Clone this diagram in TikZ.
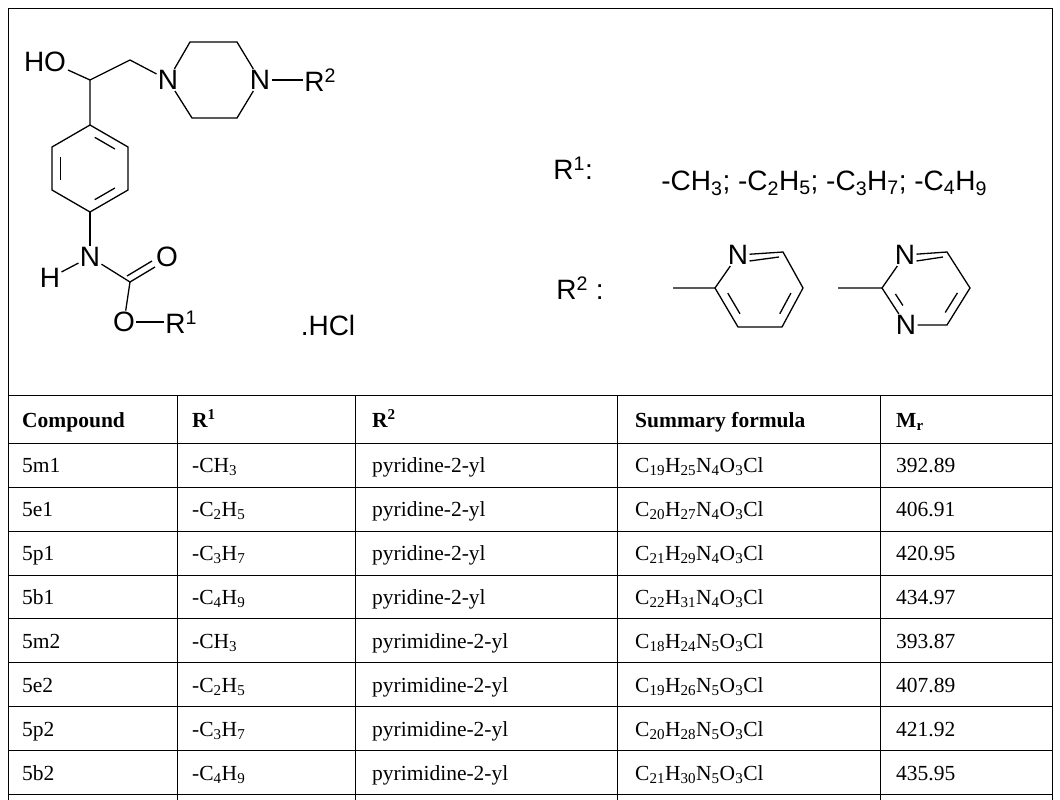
\documentclass[tikz,border=0pt]{standalone}
\usepackage{fontspec}
\setmainfont{Liberation Serif}
\newfontfamily\chemfont{Liberation Sans}
\usetikzlibrary{calc}

\tikzset{
  atom/.style={inner sep=1.2pt, font=\chemfont\fontsize{28}{30}\selectfont},
  bond/.style={line width=1.3pt},
  cell/.style={anchor=base west, inner sep=0pt, font=\fontsize{21.5}{24}\selectfont},
  head/.style={cell, font=\fontsize{21.5}{24}\selectfont\bfseries},
  rule/.style={line width=0.9pt}
}
% inner line of a ring double bond: ends, ring centre
\newcommand{\ringdbl}[3]{\draw[bond] ($(#1)!.16!(#2)!.22!(#3)$) -- ($(#2)!.16!(#1)!.22!(#3)$);}
\newcommand{\sbs}[1]{\textsubscript{#1}}
\newcommand{\sps}[1]{\textsuperscript{#1}}

\begin{document}
\begin{tikzpicture}[x=1pt,y=-1pt]
\useasboundingbox (0,0) rectangle (1060,800);

% Frame and table
\draw[rule] (8,800) -- (8,8) -- (1052,8) -- (1052,800);
\foreach \y in {395,443,487,531,575,618,662,706,750,794}
  \draw[rule] (8,\y) -- (1052,\y);
\foreach \x in {177,355,617,880}
  \draw[rule] (\x,395) -- (\x,800);

% Main structure
\node[atom] (ho) at (45,62) {HO};
\coordinate (c1) at (90,80);
\coordinate (c2) at (130,60);
\node[atom] (n1) at (168,80) {N};
\coordinate (p1) at (190,42);
\coordinate (p2) at (237,42);
\node[atom] (n2) at (260,80) {N};
\coordinate (p3) at (237,118);
\coordinate (p4) at (192,118);
\node[atom, anchor=west] (r2) at (303,80) {R\sps{2}};
\coordinate (b1) at (90,125);
\coordinate (b2) at (128,147);
\coordinate (b3) at (128,190);
\coordinate (b4) at (90,212);
\coordinate (b5) at (52,190);
\coordinate (b6) at (52,147);
\coordinate (bc) at (90,168.5);
\node[atom] (nh) at (90,257) {N};
\node[atom] (h) at (50,278) {H};
\coordinate (cc) at (130,282);
\node[atom] (o1) at (167,257) {O};
\node[atom] (o2) at (124,322) {O};
\node[atom, anchor=west] (r1) at (164,322) {R\sps{1}};
\node[atom, inner sep=0pt] (hcl) at (328,325) {.HCl};

\draw[bond] (68,70) -- (c1) -- (c2) -- (n1) -- (p1) -- (p2) -- (n2) -- (p3) -- (p4) -- (n1);
\draw[bond] (n2) -- (r2.west |- n2);
\draw[bond] (c1) -- (b1) -- (b2) -- (b3) -- (b4) -- (b5) -- (b6) -- (b1);
\ringdbl{b1}{b2}{bc}
\ringdbl{b5}{b6}{bc}
\ringdbl{b3}{b4}{bc}
\draw[bond] (b4) -- (nh);
\draw[bond] (nh) -- (h);
\draw[bond] (nh) -- (cc) -- (155,267);
\draw[bond] (127,276) -- (152,261);
\draw[bond] (cc) -- (o2);
\draw[bond] (o2) -- (r1.west |- o2);

% Substituent R1
\node[atom, anchor=west] (lr1) at (552,168) {R\sps{1}:};
\node[atom, anchor=base west] (lr1list) at (660,190) {-CH\sbs{3}; -C\sbs{2}H\sbs{5}; -C\sbs{3}H\sbs{7}; -C\sbs{4}H\sbs{9}};

% Substituent R2
\node[atom, anchor=west] (lr2) at (555,288) {R\sps{2} :};
\coordinate (ya) at (673,288);
\coordinate (y1) at (715,288);
\node[atom] (yn) at (738,255) {N};
\coordinate (y2) at (783,252);
\coordinate (y3) at (803,288);
\coordinate (y4) at (782,327);
\coordinate (y5) at (738,327);
\coordinate (yc) at (760,289);
\draw[bond] (ya) -- (y1) -- (yn) -- (y2) -- (y3) -- (y4) -- (y5) -- (y1);
\draw[bond] ($(yn.east)+(0,6)$) -- ($(y2)+(-4,5)$);
\ringdbl{y1}{y5}{yc}
\ringdbl{y3}{y4}{yc}

\coordinate (ma) at (838,288);
\coordinate (m1) at (882,288);
\node[atom] (mn1) at (905,255) {N};
\coordinate (m2) at (947,252);
\coordinate (m3) at (970,288);
\coordinate (m4) at (947,325);
\node[atom] (mn2) at (906,325) {N};
\coordinate (mc) at (926,289);
\draw[bond] (ma) -- (m1) -- (mn1) -- (m2) -- (m3) -- (m4) -- (mn2) -- (m1);
\draw[bond] ($(mn1.east)+(0,6)$) -- ($(m2)+(-4,5)$);
\draw[bond] ($(m1)!.2!(mn2)!.22!(mc)$) -- ($(mn2)!.4!(m1)!.22!(mc)$);
\ringdbl{m3}{m4}{mc}

% Table header
\node[head] (hcomp) at (22,427) {Compound};
\node[head] (hr1) at (192,427) {R\sps{1}};
\node[head] (hr2) at (372,427) {R\sps{2}};
\node[head] (hsum) at (635,427) {Summary formula};
\node[head] (hmr) at (896,427) {M\sbs{r}};

% Table rows
\foreach \cmp/\ra/\rb/\fm/\mr [count=\i] in {
  5m1/CH\sbs{3}/pyridine-2-yl/C\sbs{19}H\sbs{25}N\sbs{4}O\sbs{3}Cl/392.89,
  5e1/C\sbs{2}H\sbs{5}/pyridine-2-yl/C\sbs{20}H\sbs{27}N\sbs{4}O\sbs{3}Cl/406.91,
  5p1/C\sbs{3}H\sbs{7}/pyridine-2-yl/C\sbs{21}H\sbs{29}N\sbs{4}O\sbs{3}Cl/420.95,
  5b1/C\sbs{4}H\sbs{9}/pyridine-2-yl/C\sbs{22}H\sbs{31}N\sbs{4}O\sbs{3}Cl/434.97,
  5m2/CH\sbs{3}/pyrimidine-2-yl/C\sbs{18}H\sbs{24}N\sbs{5}O\sbs{3}Cl/393.87,
  5e2/C\sbs{2}H\sbs{5}/pyrimidine-2-yl/C\sbs{19}H\sbs{26}N\sbs{5}O\sbs{3}Cl/407.89,
  5p2/C\sbs{3}H\sbs{7}/pyrimidine-2-yl/C\sbs{20}H\sbs{28}N\sbs{5}O\sbs{3}Cl/421.92,
  5b2/C\sbs{4}H\sbs{9}/pyrimidine-2-yl/C\sbs{21}H\sbs{30}N\sbs{5}O\sbs{3}Cl/435.95}
{
  \pgfmathsetmacro{\yy}{428+44*\i}
  \node[cell] (cmp\i) at (22,\yy) {\cmp};
  \node[cell] (ra\i) at (192,\yy) {-\ra};
  \node[cell] (rb\i) at (372,\yy) {\rb};
  \node[cell] (fm\i) at (635,\yy) {\fm};
  \node[cell] (mr\i) at (896,\yy) {\mr};
}
\end{tikzpicture}
\end{document}
